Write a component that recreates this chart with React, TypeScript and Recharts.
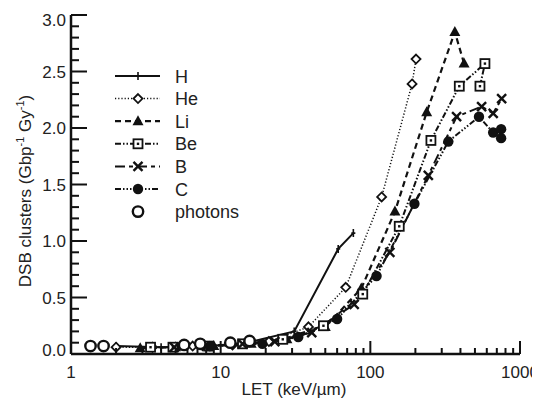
import { ComposedChart, Line, XAxis, YAxis } from 'recharts'

// LET (keV/µm) and DSB clusters (Gbp^-1 Gy^-1) per ion
const H_LET = [2.0, 4.0, 8.5, 15, 31, 61, 77]
const H_DSB = [0.07, 0.06, 0.07, 0.1, 0.2, 0.93, 1.07]
const HE_LET = [2.0, 3.5, 6.5, 12, 21, 38.6, 68.5, 119, 190, 202]
const HE_DSB = [0.06, 0.06, 0.07, 0.08, 0.11, 0.24, 0.59, 1.39, 2.39, 2.61]
const LI_LET = [2.9, 5.0, 9.0, 16, 27.7, 50, 87, 146, 238, 367, 423]
const LI_DSB = [0.05, 0.06, 0.07, 0.09, 0.13, 0.24, 0.58, 1.26, 2.14, 2.85, 2.57]
const BE_LET = [3.4, 4.8, 8.3, 14, 26, 48.6, 89, 156, 254, 393, 583, 540]
const BE_DSB = [0.06, 0.06, 0.07, 0.09, 0.13, 0.25, 0.53, 1.13, 1.89, 2.37, 2.57, 2.37]
const B_LET = [4.9, 8.0, 14, 23, 40.6, 78, 135, 244, 377, 554, 662, 754]
const B_DSB = [0.06, 0.07, 0.09, 0.11, 0.19, 0.44, 0.9, 1.58, 2.1, 2.19, 2.13, 2.26]
const C_LET = [8.5, 19, 33, 60, 110, 197, 332, 532, 662, 748, 748]
const C_DSB = [0.07, 0.09, 0.15, 0.31, 0.69, 1.33, 1.88, 2.1, 1.96, 1.99, 1.91]
const PH_LET = [1.35, 1.65, 5.7, 7.3, 11.6, 15.6]
const PH_DSB = [0.07, 0.07, 0.08, 0.09, 0.1, 0.115]

const X_MAJOR = [1, 10, 100, 1000]
const X_TICKS = [1, 2, 3, 4, 5, 6, 7, 8, 9, 10, 20, 30, 40, 50, 60, 70, 80, 90, 100,
  200, 300, 400, 500, 600, 700, 800, 900, 1000]
const Y_TICKS = Array.from({ length: 31 }, (_, i) => i / 10)

const pts = (xs: number[], ys: number[]) => xs.map((x, i) => ({ x, y: ys[i] }))

const INK = '#111'
const FONT = 'Liberation Sans, Arial, sans-serif'

function Marker({ shape, cx, cy }: { shape: string; cx: number; cy: number }) {
  switch (shape) {
    case 'plus':
      return (
        <g stroke={INK} strokeWidth={1.6}>
          <path d={`M${cx},${cy - 4}V${cy + 4}M${cx - 2},${cy}H${cx + 2}`} />
        </g>
      )
    case 'diamond':
      return <path d={`M${cx},${cy - 4.5}L${cx + 4.5},${cy}L${cx},${cy + 4.5}L${cx - 4.5},${cy}Z`} fill="#fff" stroke={INK} strokeWidth={1.8} />
    case 'triangle':
      return <path d={`M${cx},${cy - 6}L${cx + 5.5},${cy + 4}L${cx - 5.5},${cy + 4}Z`} fill={INK} />
    case 'square':
      return (
        <g>
          <rect x={cx - 4.5} y={cy - 4.5} width={9} height={9} fill="#fff" stroke={INK} strokeWidth={1.8} />
          <rect x={cx - 1.2} y={cy - 1.2} width={2.4} height={2.4} fill={INK} />
        </g>
      )
    case 'cross':
      return <path d={`M${cx - 4.5},${cy - 4.5}L${cx + 4.5},${cy + 4.5}M${cx + 4.5},${cy - 4.5}L${cx - 4.5},${cy + 4.5}`} stroke={INK} strokeWidth={2.4} />
    case 'disc':
      return <circle cx={cx} cy={cy} r={5.2} fill={INK} />
    default:
      return <circle cx={cx} cy={cy} r={5.2} fill="#fff" stroke={INK} strokeWidth={2.4} />
  }
}

const dotOf = (shape: string) => (p: any) =>
  <Marker key={`${shape}-${p.index}`} shape={shape} cx={p.cx} cy={p.cy} />

const SERIES = [
  { name: 'H', data: pts(H_LET, H_DSB), dash: undefined, width: 2, shape: 'plus' },
  { name: 'He', data: pts(HE_LET, HE_DSB), dash: '1.2 2', width: 1.5, shape: 'diamond' },
  { name: 'Li', data: pts(LI_LET, LI_DSB), dash: '6 4', width: 2.2, shape: 'triangle' },
  { name: 'Be', data: pts(BE_LET, BE_DSB), dash: '6 2 1.5 2 1.5 2', width: 2, shape: 'square' },
  { name: 'B', data: pts(B_LET, B_DSB), dash: '10 4 4 4', width: 2, shape: 'cross' },
  { name: 'C', data: pts(C_LET, C_DSB), dash: '6 2 1.5 2 1.5 2 1.5 2', width: 2, shape: 'disc' },
]

const XTick = (props: any) => {
  const { x, y, payload } = props
  const major = X_MAJOR.includes(payload.value)
  return (
    <g>
      <line x1={x} y1={y} x2={x} y2={y - (major ? 13 : 6)} stroke={INK} strokeWidth={2} />
      {major && (
        <text x={x} y={y + 24} textAnchor="middle" fontSize={17} fill="#222" fontFamily={FONT}>
          {payload.value}
        </text>
      )}
    </g>
  )
}

const YTick = (props: any) => {
  const { x, y, payload } = props
  const v = Math.round(payload.value * 10)
  const major = v % 5 === 0
  const shift = v === 30 ? 5 : v === 0 ? -4 : 0
  return (
    <g>
      <line x1={x} y1={y} x2={x + (major ? 16 : 8)} y2={y} stroke={INK} strokeWidth={2} />
      {major && (
        <text x={x - 5} y={y + 6 + shift} textAnchor="end" fontSize={17} fill="#222" fontFamily={FONT}>
          {(v / 10).toFixed(1)}
        </text>
      )}
    </g>
  )
}

const YLabel = () => (
  <text transform="translate(23,183) rotate(-90)" textAnchor="middle" fontSize={17} fill="#222" fontFamily={FONT}>
    DSB clusters (Gbp<tspan fontSize={11} dy={-7}>-1</tspan><tspan dy={7}> Gy</tspan>
    <tspan fontSize={11} dy={-7}>-1</tspan><tspan dy={7}>)</tspan>
  </text>
)

const XLabel = () => (
  <text x={286} y={387} textAnchor="middle" fontSize={17} fill="#222" fontFamily={FONT}>
    LET (keV/µm)
  </text>
)

const LegendBox = () => (
  <svg width={220} height={170} style={{ position: 'absolute', left: 100, top: 59, overflow: 'visible' }}>
    {[...SERIES, { name: 'photons', dash: undefined, width: 0, shape: 'ring' }].map((s, i) => {
      const cy = 9 + i * 22.6
      return (
        <g key={s.name}>
          {s.width > 0 && (
            <line x1={7} x2={52} y1={cy} y2={cy} stroke={INK} strokeWidth={s.width} strokeDasharray={s.dash} />
          )}
          <Marker shape={s.shape} cx={30} cy={cy} />
          <text x={67} y={cy + 6.5} fontSize={18} fill="#222" fontFamily={FONT}>{s.name}</text>
        </g>
      )
    })}
  </svg>
)

export default function App() {
  return (
    <div style={{ position: 'relative', width: 532, height: 391 }}>
      <ComposedChart width={532} height={391} margin={{ top: 7, right: 20, left: 0, bottom: 0 }}>
        <XAxis
          dataKey="x"
          type="number"
          scale="log"
          domain={[1, 1000]}
          allowDataOverflow
          ticks={X_TICKS}
          interval={0}
          height={45}
          tickSize={0}
          tickMargin={0}
          tickLine={false}
          axisLine={{ stroke: INK, strokeWidth: 2.5 }}
          tick={<XTick />}
          label={<XLabel />}
        />
        <YAxis
          type="number"
          domain={[0, 3]}
          allowDataOverflow
          ticks={Y_TICKS}
          interval={0}
          width={63}
          tickSize={0}
          tickMargin={0}
          tickLine={false}
          axisLine={{ stroke: INK, strokeWidth: 2.5 }}
          tick={<YTick />}
          label={<YLabel />}
        />
        {SERIES.map(s => (
          <Line
            key={s.name}
            name={s.name}
            data={s.data}
            dataKey="y"
            stroke={INK}
            strokeWidth={s.width}
            strokeDasharray={s.dash}
            dot={dotOf(s.shape)}
            activeDot={false}
            isAnimationActive={false}
          />
        ))}
        <Line
          name="photons"
          data={pts(PH_LET, PH_DSB)}
          dataKey="y"
          stroke="none"
          dot={dotOf('ring')}
          activeDot={false}
          isAnimationActive={false}
        />
      </ComposedChart>
      <LegendBox />
    </div>
  )
}
